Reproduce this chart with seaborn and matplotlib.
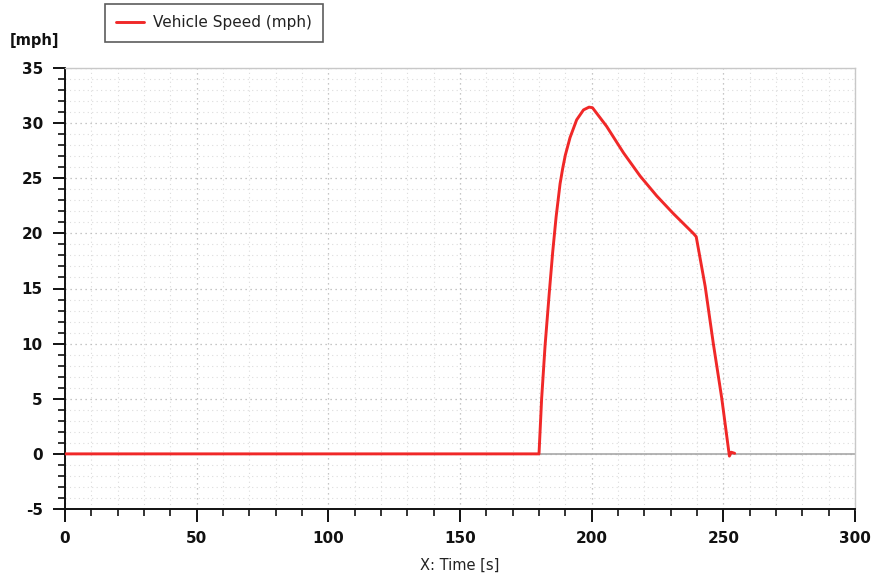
import matplotlib
matplotlib.use("Agg")
import matplotlib.pyplot as plt
from matplotlib.ticker import MultipleLocator
import seaborn as sns
import pandas as pd

# Data
time_s = [0, 180, 181.0, 182.3, 183.9, 185.2, 186.5, 188.0, 189.0, 190.0, 191.8,
          194.3, 196.9, 199.0, 200.3, 205.7, 212.1, 218.4, 224.7, 231.0, 238.6,
          239.7, 243.1, 246.2, 249.4, 252.3, 253.0, 254.3]
speed_mph = [0, 0, 5.0, 9.8, 14.6, 18.3, 21.5, 24.5, 25.9, 27.1, 28.7,
             30.3, 31.2, 31.45, 31.4, 29.7, 27.3, 25.2, 23.4, 21.8, 20.0,
             19.7, 15.2, 10.0, 5.05, -0.2, 0.15, 0.05]
series_label = "Vehicle Speed (mph)"
x_ticks = [0, 50, 100, 150, 200, 250, 300]
y_ticks = [-5, 0, 5, 10, 15, 20, 25, 30, 35]

df = pd.DataFrame({"t": time_s, "v": speed_mph})

sns.set_theme(style="white")
plt.rcParams["font.family"] = ["DejaVu Sans"]
plt.rcParams["axes.unicode_minus"] = False

fig = plt.figure(figsize=(8.72, 5.74), dpi=100)
ax = fig.add_axes([65 / 872, 1 - 509 / 574, (855 - 65) / 872, (509 - 68) / 574])

ax.axhline(0, color="#a8a8a8", lw=1.2, zorder=1)
sns.lineplot(data=df, x="t", y="v", ax=ax, color="#f02828", lw=2.1,
             label=series_label, zorder=3, legend=True, sort=False)

ax.set_xlim(0, 300)
ax.set_ylim(-5, 35)
ax.set_xticks(x_ticks)
ax.set_yticks(y_ticks)
ax.xaxis.set_minor_locator(MultipleLocator(10))
ax.yaxis.set_minor_locator(MultipleLocator(1))

ax.grid(which="major", ls=(0, (1, 3)), color="#b4b4b4", lw=0.9)
ax.grid(which="minor", ls=(0, (1, 3)), color="#dcdcdc", lw=0.8)
ax.set_axisbelow(True)

for s in ["left", "bottom"]:
    ax.spines[s].set_color("#111111")
    ax.spines[s].set_linewidth(1.4)
for s in ["top", "right"]:
    ax.spines[s].set_color("#c8c8c8")
    ax.spines[s].set_linewidth(1.0)

ax.tick_params(which="major", direction="out", length=9, width=1.4, color="#111111",
               labelsize=11, labelcolor="#111111", pad=7, left=True, bottom=True)
ax.tick_params(which="minor", direction="out", length=5, width=1.2, color="#111111",
               left=True, bottom=True)
for lab in ax.get_xticklabels() + ax.get_yticklabels():
    lab.set_fontweight("bold")

ax.set_xlabel("X: Time [s]", fontsize=10.5, color="#222222", labelpad=8)
ax.set_ylabel("")
fig.text(10 / 872, 1 - 41 / 574, "[mph]", fontsize=10.5, fontweight="bold",
         color="#111111", va="center", ha="left")

leg = ax.legend(loc="upper left", bbox_to_anchor=(105 / 872, 1 - 4 / 574),
                bbox_transform=fig.transFigure, frameon=True, fancybox=False,
                fontsize=11, handlelength=1.8, handletextpad=0.6,
                borderpad=0.75, borderaxespad=0)
leg.get_frame().set_edgecolor("#333333")
leg.get_frame().set_linewidth(1.2)
for t in leg.get_texts():
    t.set_color("#222222")

fig.savefig("out.png", dpi=100)
